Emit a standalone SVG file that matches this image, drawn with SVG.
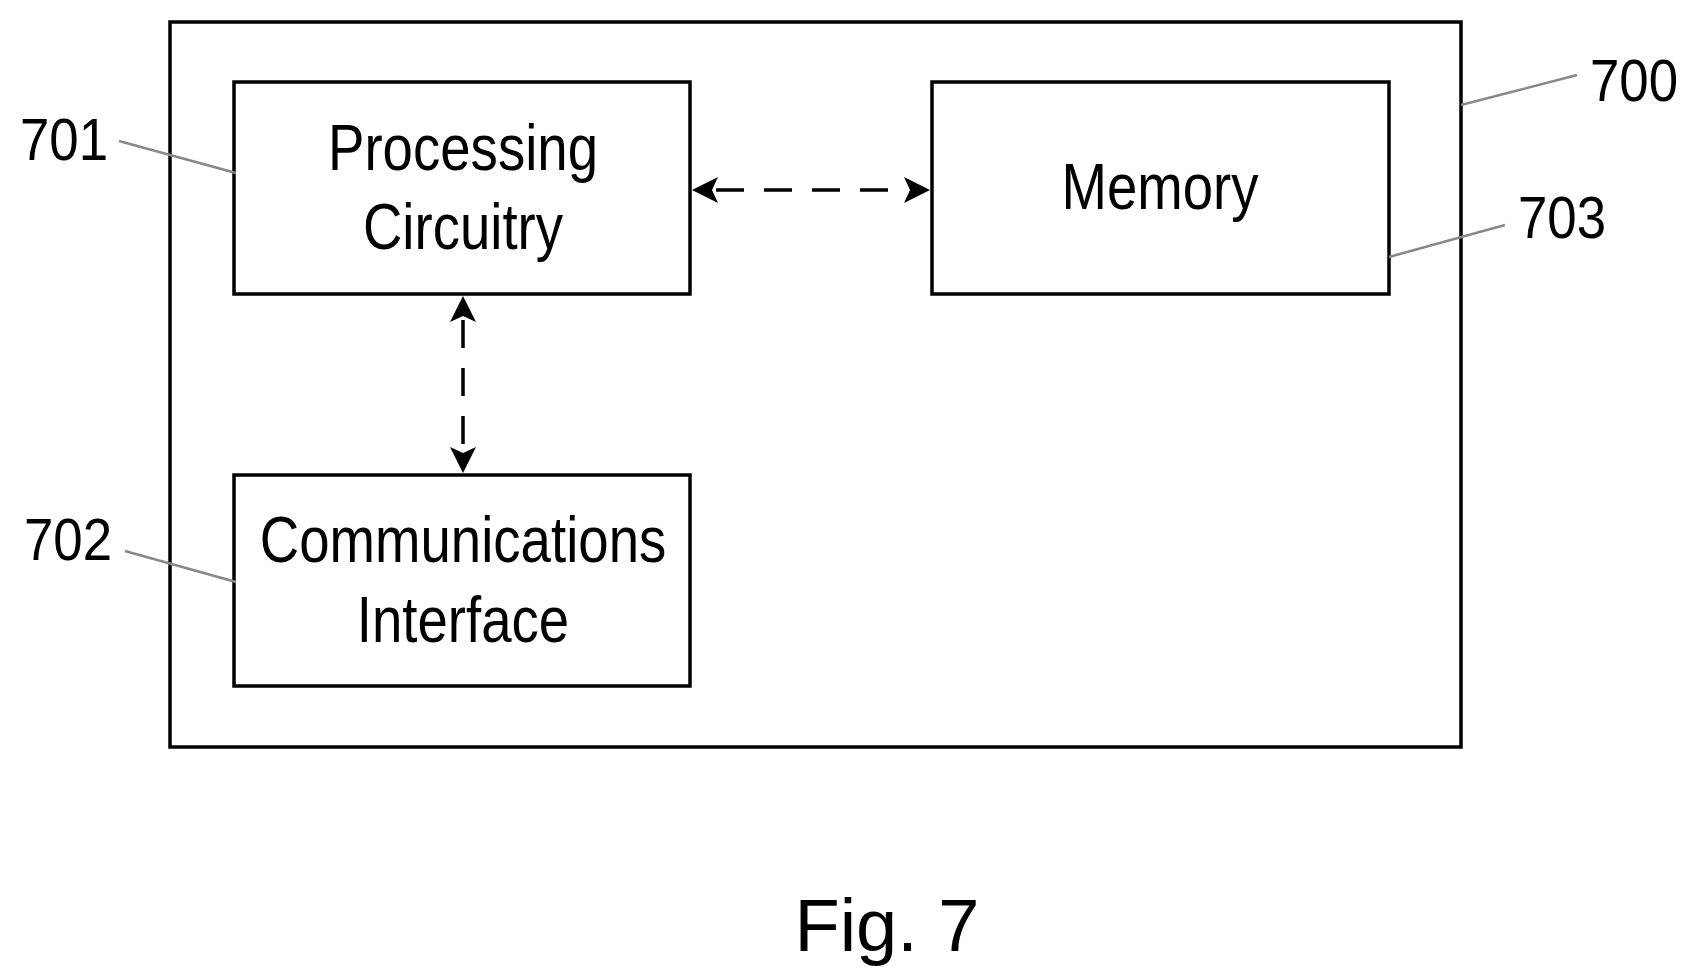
<svg xmlns="http://www.w3.org/2000/svg" width="1691" height="968" viewBox="0 0 1691 968">
<style>
.box{fill:#fff;stroke:#000;stroke-width:3.5}
.t{font-family:"Liberation Sans",Arial,sans-serif;font-size:65px;text-anchor:middle;fill:#000}
.lbl{font-family:"Liberation Sans",Arial,sans-serif;font-size:60px;fill:#000}
.lead{stroke:#888;stroke-width:2.5;fill:none}
.con{stroke:#000;stroke-width:3.5;stroke-dasharray:28,20;fill:none}
</style>
<rect width="1691" height="968" fill="#fff"/>
<g id="n700"><rect class="box" x="170" y="22" width="1291" height="725"/></g>
<g id="n701"><rect class="box" x="234" y="82" width="456" height="212"/>
<text class="t" transform="translate(463,170) scale(0.84,1)">Processing</text><text class="t" transform="translate(463,249) scale(0.84,1)">Circuitry</text></g>
<g id="n703"><rect class="box" x="932" y="82" width="457" height="212"/>
<text class="t" transform="translate(1160,209) scale(0.84,1)">Memory</text></g>
<g id="n702"><rect class="box" x="234" y="475" width="456" height="211"/>
<text class="t" transform="translate(463,562) scale(0.84,1)">Communications</text><text class="t" transform="translate(463,642) scale(0.84,1)">Interface</text></g>
<g id="connectors">
<path d="M716,190 L906,190" class="con"/>
<path d="M692,190 l26,-13 l-6,13 l6,13 z M930,190 l-26,-13 l6,13 l-6,13 z" fill="#000"/>
<path d="M463,320 L463,449" class="con"/>
<path d="M463,296 l-13,26 l13,-6 l13,6 z M463,473 l-13,-26 l13,6 l13,-6 z" fill="#000"/>
</g>
<g id="leaders">
<path class="lead" d="M119,141 L236,173"/>
<path class="lead" d="M125,551 L236,582"/>
<path class="lead" d="M1389,257 L1505,225"/>
<path class="lead" d="M1461,105 L1577,75"/>
</g>
<text class="lbl" transform="translate(20,160) scale(0.88,1)">701</text>
<text class="lbl" transform="translate(24,560) scale(0.88,1)">702</text>
<text class="lbl" transform="translate(1518,238) scale(0.88,1)">703</text>
<text class="lbl" transform="translate(1590,101) scale(0.88,1)">700</text>
<text class="lbl" x="887" y="951" style="font-size:74px;text-anchor:middle">Fig. 7</text>
</svg>
